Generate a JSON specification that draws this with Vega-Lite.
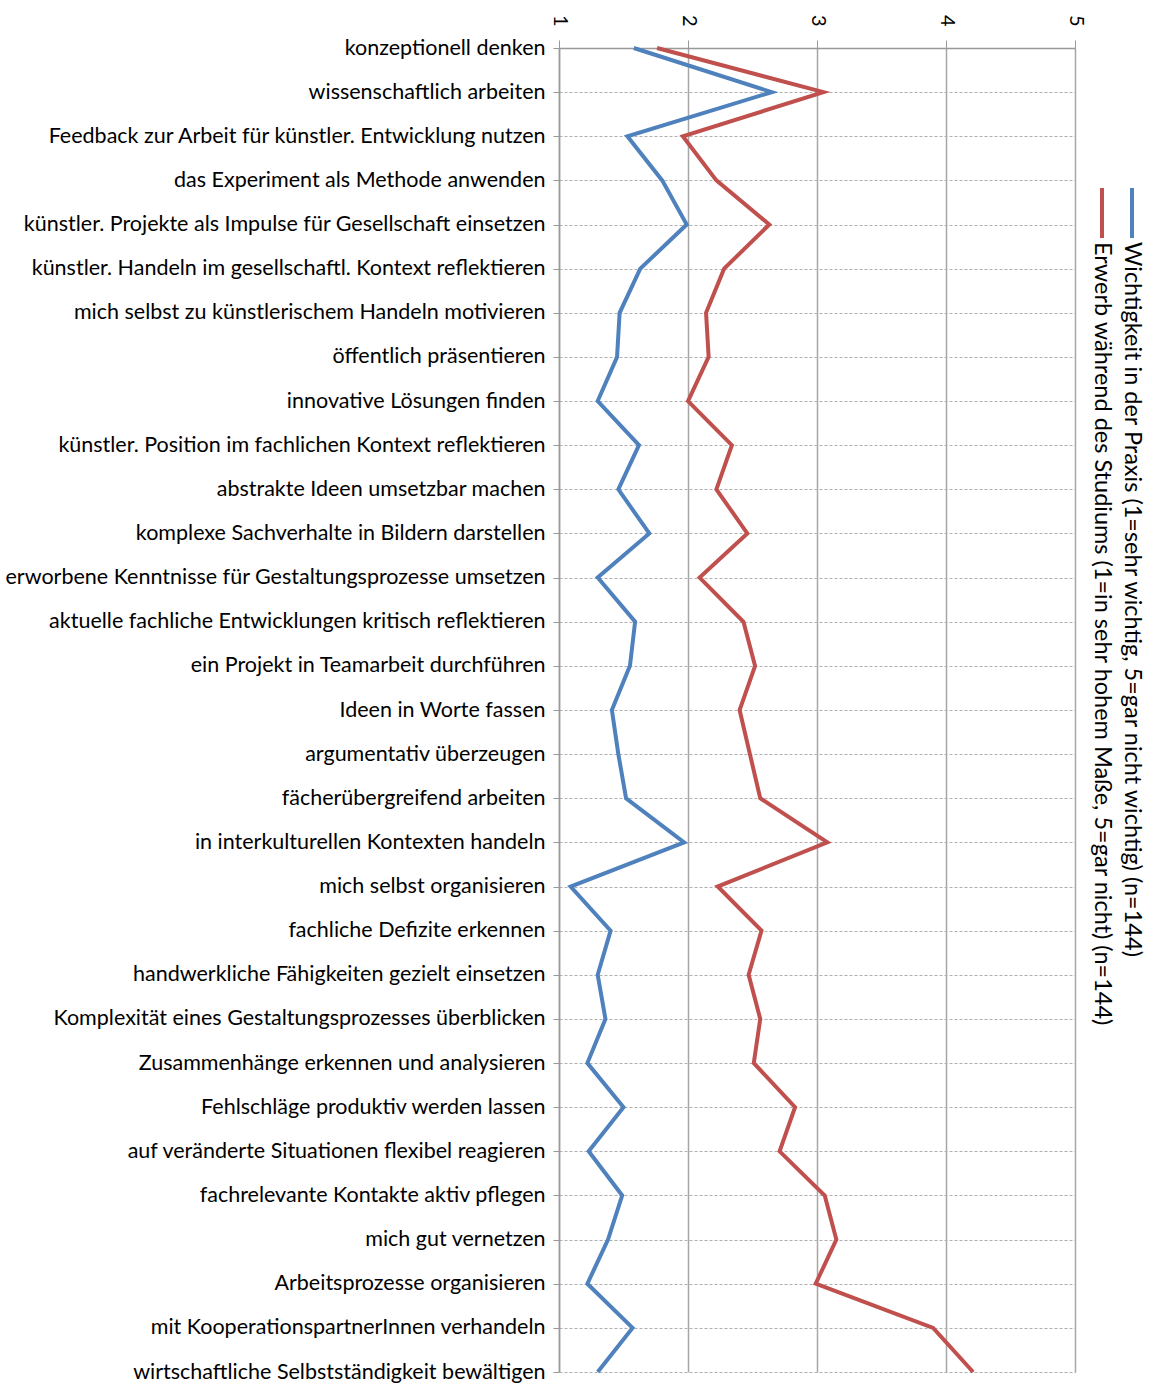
{
  "$schema": "https://vega.github.io/schema/vega-lite/v6.json",
  "autosize": {"type": "none"},
  "width": 516,
  "height": 1324,
  "padding": {"left": 559, "top": 48, "right": 78, "bottom": 11},
  "background": "white",
  "config": {"view": {"stroke": null}, "font": "Lato"},
  "data": {"values": [
    {"skill": "konzeptionell denken", "praxis": 1.58, "studium": 1.76},
    {"skill": "wissenschaftlich arbeiten", "praxis": 2.65, "studium": 3.05},
    {"skill": "Feedback zur Arbeit für künstler. Entwicklung nutzen", "praxis": 1.53, "studium": 1.96},
    {"skill": "das Experiment als Methode anwenden", "praxis": 1.80, "studium": 2.22},
    {"skill": "künstler. Projekte als Impulse für Gesellschaft einsetzen", "praxis": 1.99, "studium": 2.63},
    {"skill": "künstler. Handeln im gesellschaftl. Kontext reflektieren", "praxis": 1.63, "studium": 2.28},
    {"skill": "mich selbst zu künstlerischem Handeln motivieren", "praxis": 1.47, "studium": 2.14},
    {"skill": "öffentlich präsentieren", "praxis": 1.45, "studium": 2.16},
    {"skill": "innovative Lösungen finden", "praxis": 1.30, "studium": 2.00},
    {"skill": "künstler. Position im fachlichen Kontext reflektieren", "praxis": 1.62, "studium": 2.34},
    {"skill": "abstrakte Ideen umsetzbar machen", "praxis": 1.46, "studium": 2.22},
    {"skill": "komplexe Sachverhalte in Bildern darstellen", "praxis": 1.70, "studium": 2.46},
    {"skill": "erworbene Kenntnisse für Gestaltungsprozesse umsetzen", "praxis": 1.30, "studium": 2.09},
    {"skill": "aktuelle fachliche Entwicklungen kritisch reflektieren", "praxis": 1.59, "studium": 2.43},
    {"skill": "ein Projekt in Teamarbeit durchführen", "praxis": 1.55, "studium": 2.52},
    {"skill": "Ideen in Worte fassen", "praxis": 1.41, "studium": 2.40},
    {"skill": "argumentativ überzeugen", "praxis": 1.46, "studium": 2.48},
    {"skill": "fächerübergreifend arbeiten", "praxis": 1.52, "studium": 2.56},
    {"skill": "in interkulturellen Kontexten handeln", "praxis": 1.97, "studium": 3.08},
    {"skill": "mich selbst organisieren", "praxis": 1.09, "studium": 2.23},
    {"skill": "fachliche Defizite erkennen", "praxis": 1.40, "studium": 2.57},
    {"skill": "handwerkliche Fähigkeiten gezielt einsetzen", "praxis": 1.30, "studium": 2.47},
    {"skill": "Komplexität eines Gestaltungsprozesses überblicken", "praxis": 1.36, "studium": 2.56},
    {"skill": "Zusammenhänge erkennen und analysieren", "praxis": 1.22, "studium": 2.51},
    {"skill": "Fehlschläge produktiv werden lassen", "praxis": 1.50, "studium": 2.83},
    {"skill": "auf veränderte Situationen flexibel reagieren", "praxis": 1.23, "studium": 2.71},
    {"skill": "fachrelevante Kontakte aktiv pflegen", "praxis": 1.49, "studium": 3.06},
    {"skill": "mich gut vernetzen", "praxis": 1.38, "studium": 3.15},
    {"skill": "Arbeitsprozesse organisieren", "praxis": 1.22, "studium": 2.99},
    {"skill": "mit KooperationspartnerInnen verhandeln", "praxis": 1.57, "studium": 3.90},
    {"skill": "wirtschaftliche Selbstständigkeit bewältigen", "praxis": 1.30, "studium": 4.21}
  ]},
  "transform": [{"fold": ["praxis", "studium"], "as": ["series", "value"]}],
  "encoding": {
    "y": {
      "field": "skill", "type": "nominal", "sort": null,
      "scale": {"type": "point", "padding": 0},
      "axis": {
        "title": null, "labelFontSize": 21.5, "labelColor": "#000", "labelPadding": 8,
        "labelLimit": 700, "tickSize": 6, "tickColor": "#999", "domainColor": "#999",
        "domainWidth": 1.5, "grid": true, "gridDash": [3, 2], "gridColor": "#b0b0b0", "gridWidth": 1
      }
    },
    "x": {
      "field": "value", "type": "quantitative",
      "scale": {"domain": [1, 5], "nice": false, "zero": false},
      "axis": {
        "orient": "top", "title": null, "values": [1, 2, 3, 4, 5], "format": "d",
        "labelAngle": 90, "labelAlign": "right", "labelBaseline": "middle",
        "labelFontSize": 20, "labelColor": "#000", "labelPadding": 14,
        "tickSize": 8, "tickColor": "#999", "domainColor": "#999", "domainWidth": 1.5,
        "grid": true, "gridColor": "#a6a6a6", "gridWidth": 1.5
      }
    },
    "order": {"value": null}
  },
  "layer": [
    {
      "transform": [{"filter": "datum.series == 'praxis'"}],
      "mark": {"type": "line", "strokeWidth": 4},
      "encoding": {
        "color": {
          "field": "series", "type": "nominal",
          "scale": {"domain": ["praxis"], "range": ["#4F81BD"]},
          "legend": {
            "title": null, "orient": "none", "legendX": 548, "legendY": 140,
            "padding": 0, "symbolType": "stroke", "symbolSize": 2500, "symbolStrokeWidth": 4,
            "labelFontSize": 23.5, "labelColor": "#000", "labelLimit": 1000,
            "labelExpr": "'Wichtigkeit in der Praxis (1=sehr wichtig, 5=gar nicht wichtig) (n=144)'",
            "encoding": {
              "symbols": {"angle": {"value": 90}, "x": {"value": 25}, "y": {"value": 25}},
              "labels": {"angle": {"value": 90}, "align": {"value": "left"}, "baseline": {"value": "middle"}, "x": {"value": 25}, "y": {"value": 54}}
            }
          }
        }
      }
    },
    {
      "transform": [{"filter": "datum.series == 'studium'"}],
      "mark": {"type": "line", "strokeWidth": 4},
      "encoding": {
        "color": {
          "field": "series", "type": "nominal",
          "scale": {"domain": ["studium"], "range": ["#C0504D"]},
          "legend": {
            "title": null, "orient": "none", "legendX": 518, "legendY": 140,
            "padding": 0, "symbolType": "stroke", "symbolSize": 2500, "symbolStrokeWidth": 4,
            "labelFontSize": 23.5, "labelColor": "#000", "labelLimit": 1000,
            "labelExpr": "'Erwerb während des Studiums (1=in sehr hohem Maße, 5=gar nicht) (n=144)'",
            "encoding": {
              "symbols": {"angle": {"value": 90}, "x": {"value": 25}, "y": {"value": 25}},
              "labels": {"angle": {"value": 90}, "align": {"value": "left"}, "baseline": {"value": "middle"}, "x": {"value": 25}, "y": {"value": 54}}
            }
          }
        }
      }
    }
  ],
  "resolve": {"scale": {"color": "independent"}, "legend": {"color": "independent"}}
}
